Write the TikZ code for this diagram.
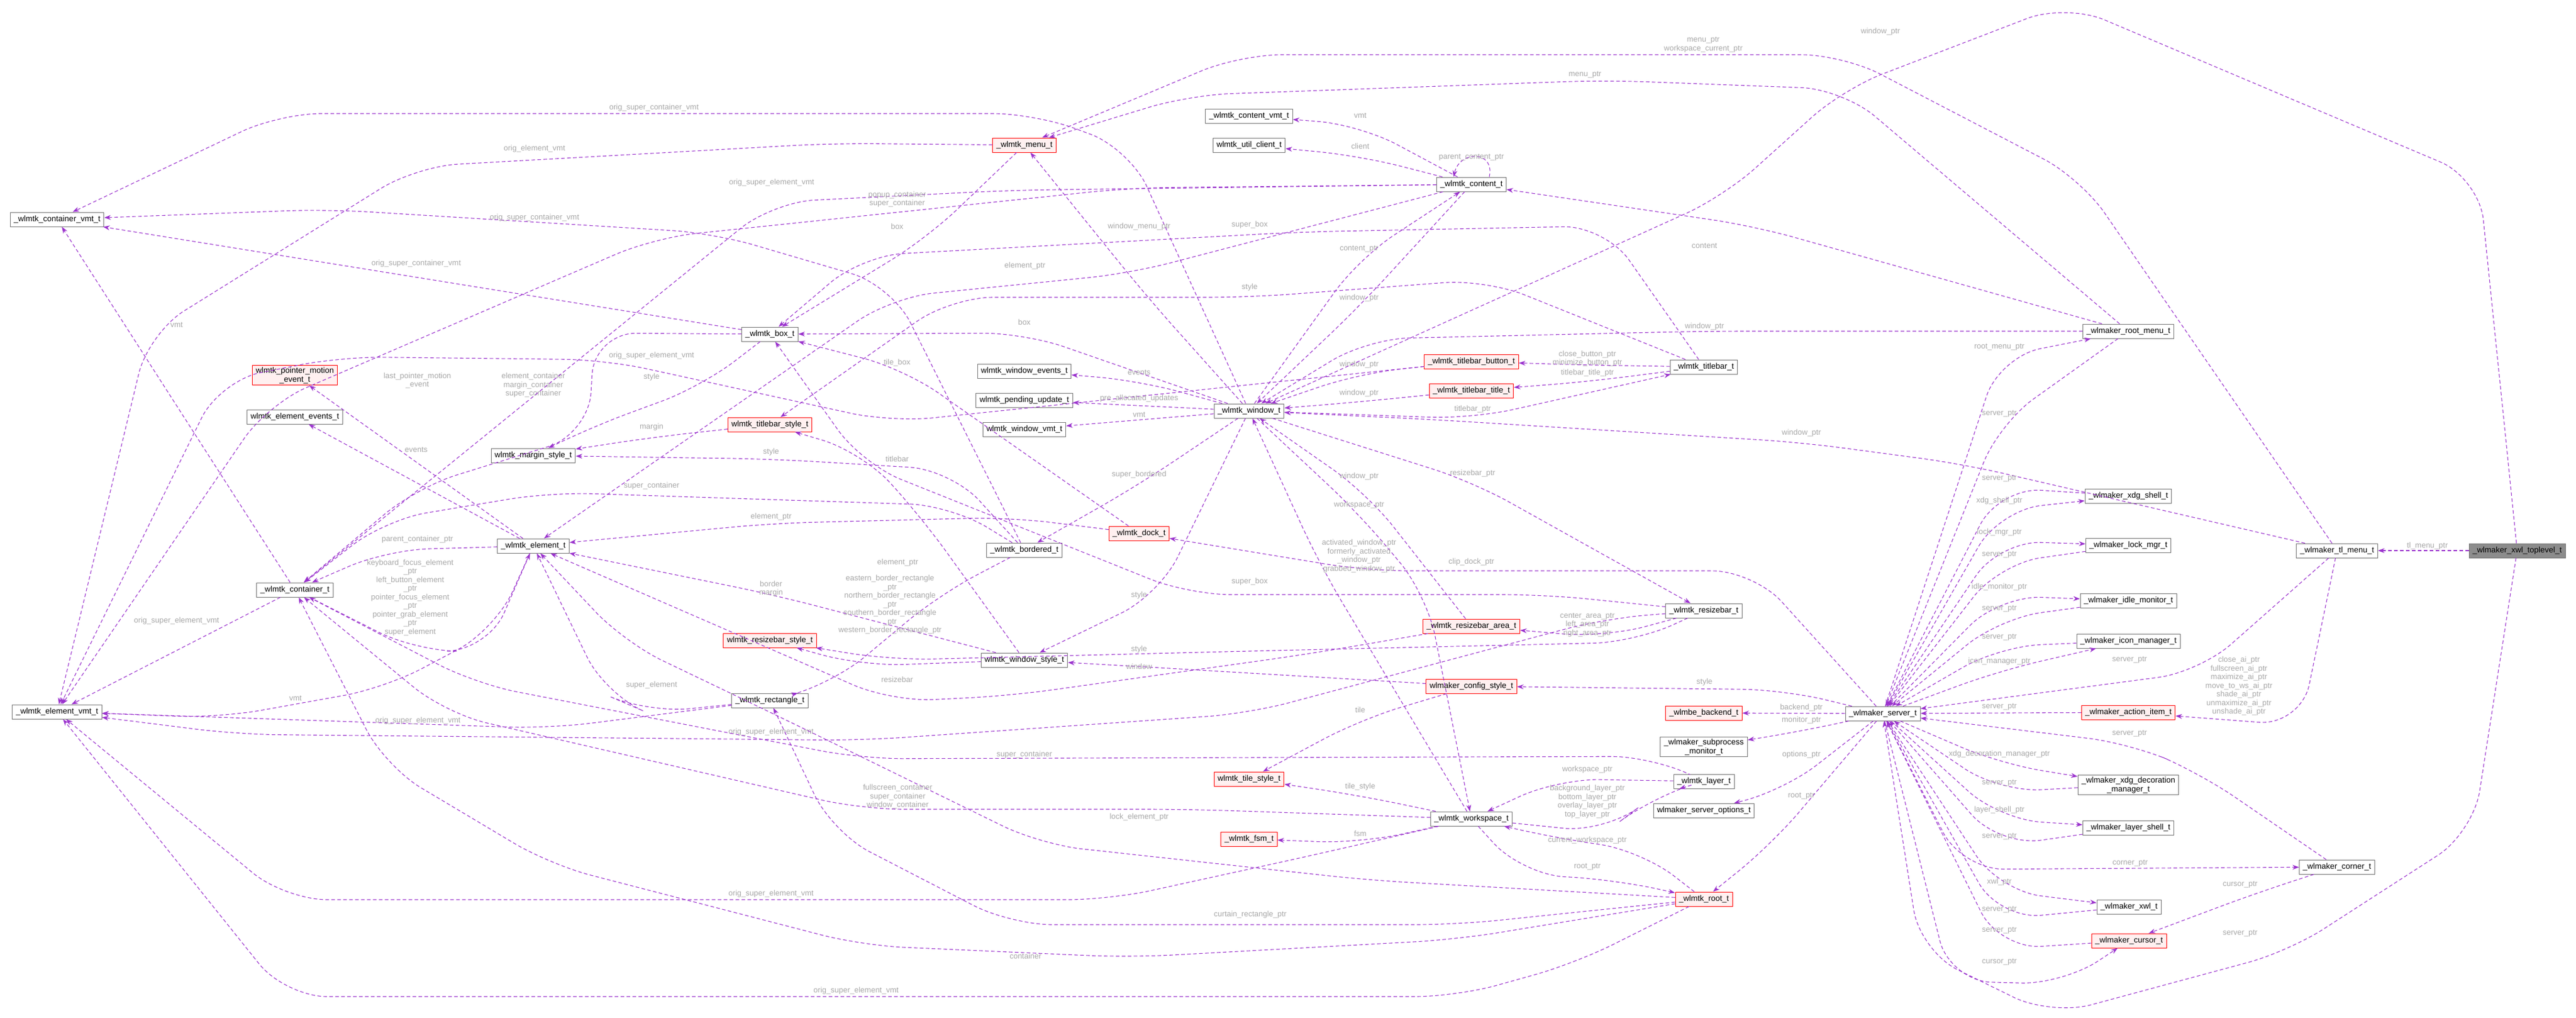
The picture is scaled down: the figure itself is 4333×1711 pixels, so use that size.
\documentclass[tikz,border=0pt]{standalone}
\usepackage{fontspec}
\setmainfont{Liberation Sans}
\usetikzlibrary{arrows.meta}
\definecolor{edgec}{HTML}{9A32CD}
\definecolor{labc}{HTML}{A8A8A8}
\definecolor{redfill}{HTML}{FFF0F0}
\tikzset{
  cls/.style={draw=black!55, fill=white, line width=1pt, inner xsep=6pt, inner ysep=3pt, minimum height=24pt, font=\fontsize{13.5}{15}\selectfont, align=center},
  redcls/.style={cls, draw=red, fill=redfill},
  grycls/.style={cls, fill=black!45},
  e/.style={draw=edgec, line width=1.1pt, dash pattern=on 6pt off 4pt, rounded corners=70pt, -{Stealth[length=11pt,width=8pt]}},
  lbl/.style={text=labc, font=\fontsize{13}{14.5}\selectfont, align=center, inner sep=1pt}
}
\newcommand\elab[3]{\node[lbl] (#1) at (#2) {#3};}
\begin{document}
\begin{tikzpicture}[x=1pt,y=-1pt]
\useasboundingbox (0,0) rectangle (4333,1711);
% nodes
\node[cls] (cvmt) at (96,369) {\_wlmtk\_container\_vmt\_t};
\node[cls] (evmt) at (96,1197) {\_wlmtk\_element\_vmt\_t};
\node[cls] (cont) at (496,992) {\_wlmtk\_container\_t};
\node[redcls] (pme) at (496,631) {wlmtk\_pointer\_motion\\\_event\_t};
\node[cls] (eev) at (496,701) {wlmtk\_element\_events\_t};
\node[cls] (elem) at (897,918) {\_wlmtk\_element\_t};
\node[cls] (marg) at (897,766) {wlmtk\_margin\_style\_t};
\node[cls] (box) at (1295,562) {\_wlmtk\_box\_t};
\node[redcls] (tstyle) at (1295,714) {wlmtk\_titlebar\_style\_t};
\node[redcls] (rstyle) at (1295,1077) {wlmtk\_resizebar\_style\_t};
\node[cls] (rect) at (1295,1178) {\_wlmtk\_rectangle\_t};
\node[redcls] (menu) at (1723,244) {\_wlmtk\_menu\_t};
\node[cls] (wev) at (1723,624) {wlmtk\_window\_events\_t};
\node[cls] (pend) at (1723,673) {wlmtk\_pending\_update\_t};
\node[cls] (wvmt) at (1723,722) {wlmtk\_window\_vmt\_t};
\node[cls] (bord) at (1723,925) {\_wlmtk\_bordered\_t};
\node[cls] (wstyle) at (1723,1110) {wlmtk\_window\_style\_t};
\node[cls] (cvmt2) at (2101,195) {\_wlmtk\_content\_vmt\_t};
\node[cls] (ucl) at (2101,244) {wlmtk\_util\_client\_t};
\node[cls] (win) at (2101,691) {\_wlmtk\_window\_t};
\node[redcls] (dock) at (1916,897) {\_wlmtk\_dock\_t};
\node[redcls] (tile) at (2101,1310) {wlmtk\_tile\_style\_t};
\node[redcls] (fsm) at (2101,1411) {\_wlmtk\_fsm\_t};
\node[cls] (content) at (2475,310) {\_wlmtk\_content\_t};
\node[redcls] (tbtn) at (2475,608) {\_wlmtk\_titlebar\_button\_t};
\node[redcls] (ttitle) at (2475,657) {\_wlmtk\_titlebar\_title\_t};
\node[redcls] (rarea) at (2475,1053) {\_wlmtk\_resizebar\_area\_t};
\node[redcls] (cfg) at (2475,1154) {wlmaker\_config\_style\_t};
\node[cls] (ws) at (2475,1377) {\_wlmtk\_workspace\_t};
\node[cls] (tbar) at (2866,617) {\_wlmtk\_titlebar\_t};
\node[cls] (rbar) at (2866,1027) {\_wlmtk\_resizebar\_t};
\node[redcls] (backend) at (2866,1199) {\_wlmbe\_backend\_t};
\node[cls] (subp) at (2866,1256) {\_wlmaker\_subprocess\\\_monitor\_t};
\node[cls] (layer) at (2866,1314) {\_wlmtk\_layer\_t};
\node[cls] (sopt) at (2866,1363) {wlmaker\_server\_options\_t};
\node[redcls] (root) at (2866,1512) {\_wlmtk\_root\_t};
\node[cls] (server) at (3167,1200) {\_wlmaker\_server\_t};
\node[cls] (rmenu) at (3580,557) {\_wlmaker\_root\_menu\_t};
\node[cls] (xdg) at (3580,834) {\_wlmaker\_xdg\_shell\_t};
\node[cls] (lock) at (3580,917) {\_wlmaker\_lock\_mgr\_t};
\node[cls] (idle) at (3580,1010) {\_wlmaker\_idle\_monitor\_t};
\node[cls] (icon) at (3580,1078) {\_wlmaker\_icon\_manager\_t};
\node[redcls] (action) at (3580,1198) {\_wlmaker\_action\_item\_t};
\node[cls] (deco) at (3580,1320) {\_wlmaker\_xdg\_decoration\\\_manager\_t};
\node[cls] (lshell) at (3580,1392) {\_wlmaker\_layer\_shell\_t};
\node[cls] (xwl) at (3581,1525) {\_wlmaker\_xwl\_t};
\node[redcls] (cursor) at (3581,1582) {\_wlmaker\_cursor\_t};
\node[cls] (tlm) at (3931,926) {\_wlmaker\_tl\_menu\_t};
\node[cls] (corner) at (3931,1458) {\_wlmaker\_corner\_t};
\node[grycls] (top) at (4234,926) {\_wlmaker\_xwl\_toplevel\_t};

% left cluster edges
\draw[e] (win) -- (1900,250) -- (1740,191) -- (470,191) -- (cvmt);
\elab{l1}{1100,181}{orig\_super\_container\_vmt}
\draw[e] (menu) -- (1400,241) -- (700,280) -- (250,560) -- (evmt);
\elab{l2}{899,250}{orig\_element\_vmt}
\draw[e] (content) -- (1900,316) -- (1100,400) -- (450,680) -- (evmt);
\elab{l3}{1298,307}{orig\_super\_element\_vmt}
\draw[e] (bord) -- (1500,480) -- (1200,392) -- (550,352) -- (cvmt);
\elab{l4}{899,366}{orig\_super\_container\_vmt}
\draw[e] (box) -- (cvmt);
\elab{l5}{700,443}{orig\_super\_container\_vmt}
\draw[e] (cont) -- (cvmt);
\elab{l6}{297,546}{vmt}
\draw[e] (elem) -- (pme);
\elab{l7}{702,640}{last\_pointer\_motion\\\_event}
\draw[e] (elem) -- (eev);
\elab{l8}{700,756}{events}
\draw[e] (box) -- (1180,650) -- (990,720) -- (marg);
\elab{l9}{1096,634}{style}
\draw[e] (tstyle) -- (1100,735) -- (marg);
\elab{l10}{1096,718}{margin}
\draw[e] (bord) -- (1600,790) -- (1300,772) -- (marg);
\elab{l11}{1297,760}{style}
\draw[e] (box) -- (1000,560) -- (990,730) -- (700,820) -- (cont);
\elab{l12}{897,648}{element\_container\\margin\_container\\super\_container}
\draw[e] (tbtn) -- (1500,710) -- (1018,605) -- (574,600) -- (370,640) -- (evmt);
\elab{l13}{1096,598}{orig\_super\_element\_vmt}
\draw[e] (bord) -- (1600,850) -- (925,828) -- (648,874) -- (cont);
\elab{l14}{1096,817}{super\_container}
\draw[e] (dock) -- (1700,870) -- (1300,880) -- (elem);
\elab{l15}{1297,869}{element\_ptr}
\draw[e] (wstyle) -- (1300,1000) -- (elem);
\elab{l16}{1297,990}{border\\margin}
\draw[e] (elem) -- (650,925) -- (cont);
\elab{l17}{702,907}{parent\_container\_ptr}
\draw[e] (cont) -- (700,1095) -- (820,1095) -- (elem);
\elab{l18}{690,1005}{keyboard\_focus\_element\\\_ptr\\left\_button\_element\\\_ptr\\pointer\_focus\_element\\\_ptr\\pointer\_grab\_element\\\_ptr\\super\_element}
\draw[e] (cont) -- (evmt);
\elab{l19}{297,1044}{orig\_super\_element\_vmt}
\draw[e] (elem) -- (833,1059) -- (648,1157) -- (370,1207) -- (evmt);
\elab{l20}{497,1174}{vmt}
\draw[e] (rect) -- (1090,1199) -- (1018,1168) -- (elem);
\elab{l21}{1096,1152}{super\_element}
\draw[e] (rect) -- (925,1225) -- (evmt);
\elab{l22}{703,1212}{orig\_super\_element\_vmt}
\draw[e] (rbar) -- (2700,1040) -- (2100,1200) -- (1450,1245) -- (400,1235) -- (evmt);
\elab{l23}{1297,1231}{orig\_super\_element\_vmt}
\draw[e] (ws) -- (2200,1440) -- (1866,1513) -- (480,1513) -- (evmt);
\elab{l24}{1297,1503}{orig\_super\_element\_vmt}
\draw[e] (root) -- (2650,1620) -- (2450,1676) -- (480,1676) -- (evmt);
\elab{l25}{1440,1666}{orig\_super\_element\_vmt}
\draw[e] (root) -- (2450,1580) -- (1900,1610) -- (1450,1590) -- (925,1454) -- (648,1289) -- (cont);
\elab{l26}{1725,1608}{container}
\draw[e] (root) -- (2300,1480) -- (1750,1420) -- (1300,1200) -- (1050,1080) -- (elem);
\elab{l27}{1916,1374}{lock\_element\_ptr}
\draw[e] (root) -- (2450,1555) -- (1700,1555) -- (1400,1400) -- (rect);
\elab{l28}{2103,1538}{curtain\_rectangle\_ptr}
\draw[e] (ws) -- (2000,1361) -- (1450,1361) -- (750,1200) -- (cont);
\elab{l29}{1510,1340}{fullscreen\_container\\super\_container\\window\_container}
\draw[e] (layer) -- (2780,1272) -- (1450,1276) -- (800,1150) -- (cont);
\elab{l30}{1723,1269}{super\_container}
\draw[e] (wstyle) -- (1550,870) -- (1450,760) -- (tstyle);
\elab{l31}{1509,772}{titlebar}
\draw[e] (wstyle) -- (1450,1120) -- (rstyle);
\elab{l32}{1509,1143}{resizebar}
\draw[e] (bord) -- (1580,1000) -- (1400,1150) -- (rect);
\elab{l33}{1497,1017}{eastern\_border\_rectangle\\\_ptr\\northern\_border\_rectangle\\\_ptr\\southern\_border\_rectangle\\\_ptr\\western\_border\_rectangle\_ptr}
\draw[e] (rarea) -- (2200,1100) -- (1700,1170) -- (1500,1180) -- (elem);
\elab{l34}{1510,946}{element\_ptr}
% window region
\draw[e] (win) -- (1950,1000) -- (wstyle);
\elab{l35}{1916,1001}{style}
\draw[e] (cfg) -- (1900,1120) -- (wstyle);
\elab{l36}{1916,1121}{window}
\draw[e] (rbar) -- (2750,1080) -- (2100,1095) -- (1500,1110) -- (rstyle);
\elab{l37}{1916,1092}{style}
\draw[e] (cfg) -- (2288,1210) -- (tile);
\elab{l38}{2288,1194}{tile}
\draw[e] (ws) -- (2288,1338) -- (tile);
\elab{l39}{2288,1323}{tile\_style}
\draw[e] (ws) -- (2288,1418) -- (fsm);
\elab{l40}{2288,1402}{fsm}
\draw[e] (layer) -- (2620,1310) -- (ws);
\elab{l41}{2670,1294}{workspace\_ptr}
\draw[e] (ws) -- (2700,1400) -- (2780,1340) -- (layer);
\elab{l42}{2670,1348}{background\_layer\_ptr\\bottom\_layer\_ptr\\overlay\_layer\_ptr\\top\_layer\_ptr}
\draw[e] (root) -- (2760,1430) -- (2620,1410) -- (ws);
\elab{l43}{2670,1413}{current\_workspace\_ptr}
\draw[e] (ws) -- (2560,1470) -- (2720,1480) -- (root);
\elab{l44}{2670,1458}{root\_ptr}
\draw[e] (server) -- (2980,1420) -- (root);
\elab{l45}{3030,1339}{root\_ptr}
\draw[e] (server) -- (3000,1330) -- (sopt);
\elab{l46}{3030,1269}{options\_ptr}
\draw[e] (server) -- (3030,1230) -- (subp);
\elab{l47}{3030,1211}{monitor\_ptr}
\draw[e] (server) -- (backend);
\elab{l48}{3030,1190}{backend\_ptr}
\draw[e] (server) -- (3000,1160) -- (cfg);
\elab{l49}{2867,1147}{style}
\draw[e] (server) -- (2950,960) -- (2300,960) -- (dock);
\elab{l50}{2475,945}{clip\_dock\_ptr}
\draw[e] (rbar) -- (2600,1000) -- (2000,1000) -- (1450,780) -- (box);
\elab{l51}{2102,978}{super\_box}
\draw[e] (rbar) -- (2700,1072) -- (rarea);
\elab{l52}{2670,1051}{center\_area\_ptr\\left\_area\_ptr\\right\_area\_ptr}
\draw[e] (win) -- (2477,810) -- (rbar);
\elab{l53}{2477,796}{resizebar\_ptr}
\draw[e] (tbtn) -- (2286,628) -- (win);
\elab{l54}{2286,613}{window\_ptr}
\draw[e] (ttitle) -- (2286,676) -- (win);
\elab{l55}{2286,661}{window\_ptr}
\draw[e] (win) -- (2477,704) -- (tbar);
\elab{l56}{2477,688}{titlebar\_ptr}
\draw[e] (tbar) -- (2670,614) -- (tbtn);
\elab{l57}{2670,603}{close\_button\_ptr\\minimize\_button\_ptr}
\draw[e] (tbar) -- (2670,642) -- (ttitle);
\elab{l58}{2670,627}{titlebar\_title\_ptr}
\draw[e] (rmenu) -- (2867,557) -- (2300,570) -- (win);
\elab{l59}{2867,549}{window\_ptr}
\draw[e] (tlm) -- (3300,780) -- (3030,744) -- (2400,705) -- (win);
\elab{l60}{3030,728}{window\_ptr}
\draw[e] (content) -- (2286,516) -- (win);
\elab{l61}{2286,501}{window\_ptr}
\draw[e] (win) -- (2286,434) -- (content);
\elab{l62}{2286,419}{content\_ptr}
\draw[e] (rarea) -- (2300,830) -- (win);
\elab{l63}{2286,801}{window\_ptr}
\draw[e] (win) -- (2286,864) -- (2400,1000) -- (ws);
\elab{l64}{2286,849}{workspace\_ptr}
\draw[e] (ws) -- (2220,950) -- (win);
\elab{l65}{2286,935}{activated\_window\_ptr\\formerly\_activated\\\_window\_ptr\\grabbed\_window\_ptr}
\draw[e] ([xshift=30pt]content.north) .. controls +(10,-45) and +(10,-45) .. ([xshift=-30pt]content.north);
\elab{l66}{2475,265}{parent\_content\_ptr}
\draw[e] (content) -- (2288,210) -- (cvmt2);
\elab{l67}{2288,194}{vmt}
\draw[e] (content) -- (2288,262) -- (ucl);
\elab{l68}{2288,246}{client}
\draw[e] (win) -- (1930,500) -- (menu);
\elab{l69}{1916,381}{window\_menu\_ptr}
\draw[e] (menu) -- (1560,400) -- (box);
\elab{l70}{1509,381}{box}
\draw[e] (content) -- (1700,320) -- (1300,340) -- (cont);
\elab{l71}{1509,335}{popup\_container\\super\_container}
\draw[e] (win) -- (1723,560) -- (box);
\elab{l72}{1723,542}{box}
\draw[e] (content) -- (1900,460) -- (1500,500) -- (elem);
\elab{l73}{1724,447}{element\_ptr}
\draw[e] (tbar) -- (2500,470) -- (2102,500) -- (1600,500) -- (tstyle);
\elab{l74}{2102,483}{style}
\draw[e] (tbar) -- (2700,380) -- (2190,390) -- (1450,430) -- (box);
\elab{l75}{2102,378}{super\_box}
\draw[e] (dock) -- (1520,620) -- (box);
\elab{l76}{1509,610}{tile\_box}
\draw[e] (win) -- (1916,640) -- (wev);
\elab{l77}{1916,626}{events}
\draw[e] (win) -- (pend);
\elab{l78}{1916,670}{pre\_allocated\_updates}
\draw[e] (win) -- (wvmt);
\elab{l79}{1916,697}{vmt}
\draw[e] (win) -- (1916,815) -- (bord);
\elab{l80}{1916,798}{super\_bordered}
\draw[e] (rmenu) -- (2950,380) -- (content);
\elab{l81}{2867,413}{content}
% server edges
\draw[e] (rmenu) -- (3363,712) -- (server);
\elab{l82}{3363,696}{server\_ptr}
\draw[e] (server) -- (3363,600) -- (rmenu);
\elab{l83}{3363,584}{root\_menu\_ptr}
\draw[e] (xdg) -- (3363,820) -- (server);
\elab{l84}{3363,805}{server\_ptr}
\draw[e] (server) -- (3363,858) -- (xdg);
\elab{l85}{3363,842}{xdg\_shell\_ptr}
\draw[e] (server) -- (3363,910) -- (lock);
\elab{l86}{3363,895}{lock\_mgr\_ptr}
\draw[e] (lock) -- (3363,948) -- (server);
\elab{l87}{3363,933}{server\_ptr}
\draw[e] (server) -- (3363,1002) -- (idle);
\elab{l88}{3363,987}{idle\_monitor\_ptr}
\draw[e] (idle) -- (3363,1040) -- (server);
\elab{l89}{3363,1024}{server\_ptr}
\draw[e] (icon) -- (3363,1087) -- (server);
\elab{l90}{3363,1072}{server\_ptr}
\draw[e] (server) -- (3363,1128) -- (icon);
\elab{l91}{3363,1112}{icon\_manager\_ptr}
\draw[e] (action) -- (server);
\elab{l92}{3363,1189}{server\_ptr}
\draw[e] (tlm) -- (3700,1130) -- (server);
\elab{l93}{3582,1110}{server\_ptr}
\draw[e] (tlm) -- (3870,1220) -- (action);
\elab{l94}{3766,1154}{close\_ai\_ptr\\fullscreen\_ai\_ptr\\maximize\_ai\_ptr\\move\_to\_ws\_ai\_ptr\\shade\_ai\_ptr\\unmaximize\_ai\_ptr\\unshade\_ai\_ptr}
\draw[e] (server) -- (3363,1284) -- (deco);
\elab{l95}{3363,1268}{xdg\_decoration\_manager\_ptr}
\draw[e] (deco) -- (3363,1332) -- (server);
\elab{l96}{3363,1317}{server\_ptr}
\draw[e] (server) -- (3363,1378) -- (lshell);
\elab{l97}{3363,1362}{layer\_shell\_ptr}
\draw[e] (lshell) -- (3363,1423) -- (server);
\elab{l98}{3363,1407}{server\_ptr}
\draw[e] (corner) -- (3700,1300) -- (3582,1250) -- (server);
\elab{l99}{3582,1234}{server\_ptr}
\draw[e] (server) -- (3300,1462) -- (corner);
\elab{l100}{3583,1452}{corner\_ptr}
\draw[e] (server) -- (3363,1498) -- (xwl);
\elab{l101}{3363,1483}{xwl\_ptr}
\draw[e] (xwl) -- (3363,1546) -- (server);
\elab{l102}{3363,1530}{server\_ptr}
\draw[e] (cursor) -- (3363,1596) -- (server);
\elab{l103}{3363,1565}{server\_ptr}
\draw[e] (server) -- (3280,1650) -- (3470,1655) -- (cursor);
\elab{l104}{3363,1618}{cursor\_ptr}
\draw[e] (corner) -- (3800,1500) -- (cursor);
\elab{l105}{3768,1488}{cursor\_ptr}
\draw[e] (top) -- (4160,1400) -- (3850,1600) -- (3450,1708) -- (3230,1600) -- (server);
\elab{l106}{3768,1570}{server\_ptr}
\draw[e] (top) -- (tlm);
\elab{l107}{4083,918}{tl\_menu\_ptr}
\draw[e] (top) -- (4170,300) -- (3475,6) -- (3100,150) -- (2900,330) -- (win);
\elab{l108}{3163,53}{window\_ptr}
\draw[e] (rmenu) -- (3100,150) -- (2700,135) -- (2000,160) -- (menu);
\elab{l109}{2666,126}{menu\_ptr}
\draw[e] (tlm) -- (3500,300) -- (3100,92) -- (2086,92) -- (menu);
\elab{l110}{2865,75}{menu\_ptr\\workspace\_current\_ptr}
\end{tikzpicture}
\end{document}
